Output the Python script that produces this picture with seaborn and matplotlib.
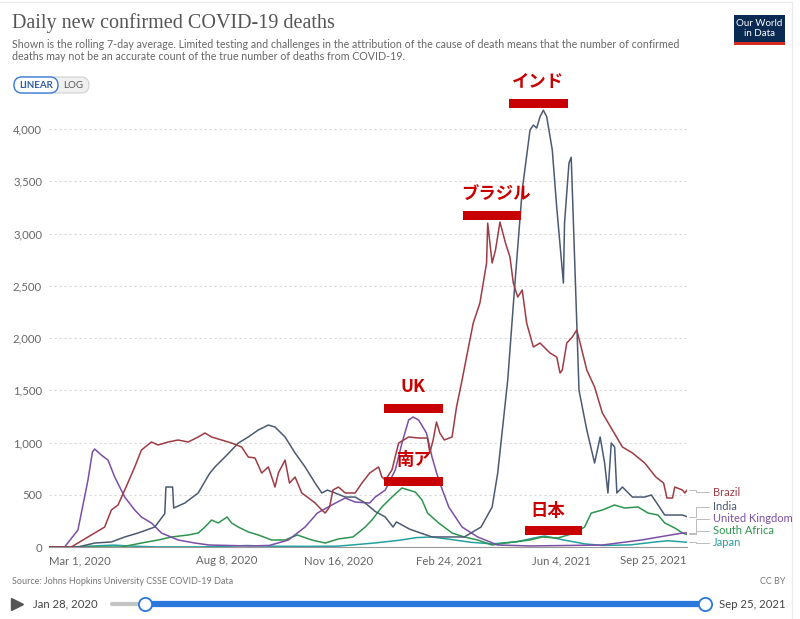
import pandas as pd
import seaborn as sns
import matplotlib.pyplot as plt
import matplotlib.dates as mdates
from matplotlib.transforms import Affine2D
from matplotlib.lines import Line2D
from matplotlib.patches import Rectangle, FancyBboxPatch

# rolling 7-day average of confirmed deaths
brazil_dates = ["2020-03-01", "2020-03-21", "2020-04-05", "2020-04-20", "2020-04-26", "2020-05-02", "2020-05-08", "2020-05-17", "2020-05-23", "2020-06-01",
                "2020-06-07", "2020-06-16", "2020-06-25", "2020-07-04", "2020-07-13", "2020-07-19", "2020-07-25", "2020-08-03", "2020-08-12", "2020-08-21",
                "2020-08-27", "2020-09-02", "2020-09-08", "2020-09-14", "2020-09-20", "2020-09-23", "2020-09-29", "2020-10-03", "2020-10-08", "2020-10-14",
                "2020-10-19", "2020-10-26", "2020-11-01", "2020-11-04", "2020-11-08", "2020-11-11", "2020-11-16", "2020-11-22", "2020-12-01", "2020-12-07",
                "2020-12-14", "2020-12-22", "2020-12-25", "2020-12-28", "2021-01-03", "2021-01-09", "2021-01-18", "2021-01-27", "2021-02-04", "2021-02-06",
                "2021-02-09", "2021-02-12", "2021-02-15", "2021-02-19", "2021-02-26", "2021-03-02", "2021-03-07", "2021-03-11", "2021-03-17", "2021-03-23",
                "2021-03-26", "2021-03-29", "2021-03-30", "2021-04-03", "2021-04-06", "2021-04-10", "2021-04-15", "2021-04-19", "2021-04-22", "2021-04-26",
                "2021-04-30", "2021-05-04", "2021-05-10", "2021-05-16", "2021-05-25", "2021-05-31", "2021-06-03", "2021-06-05", "2021-06-09", "2021-06-14",
                "2021-06-18", "2021-06-21", "2021-06-27", "2021-07-04", "2021-07-11", "2021-07-20", "2021-07-29", "2021-08-07", "2021-08-18", "2021-08-28",
                "2021-09-04", "2021-09-07", "2021-09-12", "2021-09-14", "2021-09-21", "2021-09-23", "2021-09-25"]
brazil_deaths = [0, 0, 96, 191, 354, 402, 545, 766, 928, 1005,
                 976, 1005, 1024, 1005, 1053, 1091, 1053, 1024, 995, 957,
                 861, 852, 708, 766, 574, 708, 832, 612, 670, 517,
                 478, 421, 354, 325, 383, 545, 574, 517, 517, 612,
                 708, 766, 670, 641, 737, 995, 1053, 1043, 1043, 900,
                 1024, 1196, 1091, 1024, 1053, 1340, 1598, 1818, 2143, 2335,
                 2526, 2718, 3100, 2718, 2842, 3110, 2909, 2775, 2526, 2392,
                 2459, 2143, 1914, 1952, 1856, 1818, 1665, 1694, 1952, 2010,
                 2077, 1952, 1694, 1531, 1282, 1120, 957, 900, 804, 670,
                 612, 469, 469, 574, 545, 517, 545]

india_dates = ["2020-03-01", "2020-03-27", "2020-04-11", "2020-04-26", "2020-05-08", "2020-05-20", "2020-06-04", "2020-06-13", "2020-06-14", "2020-06-20",
               "2020-06-21", "2020-07-01", "2020-07-13", "2020-07-23", "2020-07-28", "2020-08-06", "2020-08-18", "2020-08-27", "2020-09-05", "2020-09-14",
               "2020-09-20", "2020-09-29", "2020-10-08", "2020-10-17", "2020-10-26", "2020-11-01", "2020-11-06", "2020-11-13", "2020-11-22", "2020-12-01",
               "2020-12-10", "2020-12-19", "2020-12-28", "2021-01-04", "2021-01-07", "2021-01-19", "2021-02-08", "2021-03-09", "2021-03-24", "2021-04-03",
               "2021-04-08", "2021-04-17", "2021-04-23", "2021-04-30", "2021-05-07", "2021-05-10", "2021-05-13", "2021-05-16", "2021-05-19", "2021-05-22",
               "2021-05-27", "2021-05-31", "2021-06-06", "2021-06-07", "2021-06-11", "2021-06-13", "2021-06-14", "2021-06-18", "2021-06-20", "2021-06-27",
               "2021-07-04", "2021-07-09", "2021-07-13", "2021-07-16", "2021-07-19", "2021-07-22", "2021-07-24", "2021-07-29", "2021-08-07", "2021-08-18",
               "2021-08-24", "2021-09-05", "2021-09-21", "2021-09-25"]
india_deaths = [0, 0, 38, 48, 96, 134, 191, 320, 574, 574,
                373, 421, 517, 700, 766, 861, 995, 1053, 1120, 1167,
                1148, 1053, 900, 766, 612, 517, 545, 517, 478, 478,
                421, 340, 287, 191, 240, 170, 96, 96, 191, 383,
                708, 1598, 2460, 3416, 3990, 4038, 4010, 4118, 4180, 4118,
                3800, 3250, 2526, 3100, 3675, 3730, 3416, 2143, 1500, 1120,
                804, 1053, 804, 517, 995, 957, 517, 574, 478, 478,
                498, 306, 306, 290]

uk_dates = ["2020-03-01", "2020-03-15", "2020-03-27", "2020-04-05", "2020-04-09", "2020-04-11", "2020-04-17", "2020-04-23", "2020-04-29", "2020-05-08",
            "2020-05-17", "2020-05-23", "2020-06-01", "2020-06-10", "2020-06-25", "2020-07-10", "2020-07-23", "2020-08-28", "2020-09-15", "2020-10-02",
            "2020-10-17", "2020-10-28", "2020-11-10", "2020-11-22", "2020-12-01", "2020-12-14", "2020-12-19", "2020-12-28", "2021-01-06", "2021-01-12",
            "2021-01-18", "2021-01-22", "2021-01-27", "2021-02-03", "2021-02-08", "2021-02-14", "2021-02-23", "2021-03-07", "2021-03-21", "2021-04-08",
            "2021-05-07", "2021-07-11", "2021-08-15", "2021-09-21", "2021-09-25"]
uk_deaths = [0, 0, 163, 641, 909, 938, 880, 832, 670, 478,
             354, 287, 230, 134, 67, 38, 19, 10, 15, 67,
             191, 325, 402, 469, 430, 421, 478, 545, 737, 995,
             1215, 1244, 1215, 1091, 861, 641, 383, 191, 96, 19,
             10, 19, 67, 134, 135]

sa_dates = ["2020-03-01", "2020-05-05", "2020-05-23", "2020-06-07", "2020-06-19", "2020-07-04", "2020-07-13", "2020-07-19", "2020-07-25", "2020-07-31",
            "2020-08-08", "2020-08-12", "2020-08-18", "2020-08-27", "2020-09-05", "2020-09-17", "2020-09-29", "2020-10-10", "2020-10-23", "2020-11-04",
            "2020-11-16", "2020-11-29", "2020-12-10", "2020-12-16", "2020-12-25", "2021-01-03", "2021-01-12", "2021-01-18", "2021-01-24", "2021-01-30",
            "2021-02-04", "2021-02-14", "2021-02-26", "2021-03-09", "2021-03-21", "2021-04-03", "2021-04-15", "2021-05-07", "2021-05-18", "2021-06-01",
            "2021-06-16", "2021-06-25", "2021-07-01", "2021-07-11", "2021-07-22", "2021-07-31", "2021-08-12", "2021-08-21", "2021-08-30", "2021-09-05",
            "2021-09-14", "2021-09-21", "2021-09-25"]
sa_deaths = [0, 0, 38, 67, 96, 115, 134, 191, 258, 230,
             287, 230, 191, 144, 115, 67, 67, 115, 67, 38,
             77, 96, 191, 258, 383, 478, 565, 545, 526, 450,
             325, 230, 134, 96, 67, 19, 38, 67, 96, 86,
             134, 191, 325, 354, 402, 373, 383, 325, 306, 230,
             182, 134, 120]

japan_dates = ["2020-03-01", "2020-03-25", "2020-04-15", "2020-04-28", "2020-05-15", "2020-06-05", "2020-07-15", "2020-08-10", "2020-08-25", "2020-09-20",
               "2020-10-20", "2020-11-15", "2020-12-01", "2020-12-20", "2021-01-10", "2021-01-25", "2021-02-08", "2021-02-25", "2021-03-15", "2021-04-03",
               "2021-04-25", "2021-05-10", "2021-05-20", "2021-06-05", "2021-06-25", "2021-07-11", "2021-08-05", "2021-08-25", "2021-09-08", "2021-09-25"]
japan_deaths = [0, 2, 12, 18, 8, 1, 1, 8, 14, 7,
                6, 8, 22, 40, 65, 90, 96, 72, 45, 30,
                50, 85, 105, 70, 30, 15, 20, 45, 60, 45]

countries = ["Brazil", "India", "United Kingdom", "South Africa", "Japan"]
colors = {"Brazil": "#9e3b45", "India": "#4b5a73", "United Kingdom": "#7b4fa6",
          "South Africa": "#2e9450", "Japan": "#25a0a0"}
label_y = {"Brazil": 492, "India": 507, "United Kingdom": 519, "South Africa": 531, "Japan": 543}

yticks = [0, 500, 1000, 1500, 2000, 2500, 3000, 3500, 4000]
xtick_dates = ["2020-03-01", "2020-08-08", "2020-11-16", "2021-02-24", "2021-06-04", "2021-09-25"]
xtick_labels = ["Mar 1, 2020", "Aug 8, 2020", "Nov 16, 2020", "Feb 24, 2021", "Jun 4, 2021", "Sep 25, 2021"]

series = {"Brazil": (brazil_dates, brazil_deaths), "India": (india_dates, india_deaths),
          "United Kingdom": (uk_dates, uk_deaths), "South Africa": (sa_dates, sa_deaths),
          "Japan": (japan_dates, japan_deaths)}
frames = []
for name, (d, v) in series.items():
    frames.append(pd.DataFrame({"date": pd.to_datetime(d), "deaths": v, "country": name}))
df = pd.concat(frames, ignore_index=True)

sns.set_style("white")
plt.rcParams["font.family"] = ["Lato", "DejaVu Sans"]

W, H = 800, 619
fig = plt.figure(figsize=(W / 100, H / 100), dpi=100)
# pixel coords measured from the top-left corner
pix = Affine2D().scale(1 / 100, -1 / 100).translate(0, H / 100) + fig.dpi_scale_trans

ax = fig.add_axes([49 / W, 1 - 547 / H, (687 - 49) / W, (547 - 100) / H])
sns.lineplot(data=df, x="date", y="deaths", hue="country", hue_order=countries[::-1],
             palette=colors, lw=1.1, legend=False, estimator=None, ax=ax)

ax.set_xlim(pd.Timestamp("2020-03-01"), pd.Timestamp("2021-09-25"))
ax.set_ylim(0, 4278)
ax.set_xlabel("")
ax.set_ylabel("")
ax.set_yticks(yticks)
ax.set_yticklabels([f"{t:,}" for t in yticks])
ax.set_xticks(pd.to_datetime(xtick_dates))
ax.set_xticklabels(xtick_labels)
xl = ax.get_xticklabels()
xl[0].set_ha("left")
xl[-1].set_ha("right")
ax.yaxis.grid(True, ls=(0, (2, 2.5)), color="#d8d8d8", lw=0.8)
ax.set_axisbelow(True)
ax.tick_params(axis="y", length=0, labelsize=8.2, labelcolor="#666", pad=5)
ax.tick_params(axis="x", length=4, width=0.8, color="#999", labelsize=8.2, labelcolor="#666", pad=2)
for s in ["top", "right", "left"]:
    ax.spines[s].set_visible(False)
ax.spines["bottom"].set_color("#999")
ax.spines["bottom"].set_linewidth(0.8)

# end-of-line labels with connectors
for name in countries:
    d, v = series[name]
    ex, ey = ax.transData.transform((mdates.date2num(pd.Timestamp(d[-1])), v[-1]))
    ey = H - ey
    ly = label_y[name]
    fig.add_artist(Line2D([689, 696, 696, 709], [ey, ey, ly, ly], transform=pix,
                          color="#bbbbbb", lw=0.7))
    fig.text(713, ly, name, transform=pix, color=colors[name], fontsize=8,
             va="center", ha="left")

# header
fig.add_artist(Line2D([0, 792, 792], [2, 2, H], transform=pix, color="#ececec", lw=1))
fig.text(12, 23, "Daily new confirmed COVID-19 deaths", transform=pix,
         family=["Liberation Serif", "DejaVu Serif"], fontsize=14.5, color="#555555", va="center")
fig.text(12, 44, "Shown is the rolling 7-day average. Limited testing and challenges in the attribution "
         "of the cause of death means that the number of confirmed", transform=pix,
         fontsize=7.65, color="#666666", va="center")
fig.text(12, 57, "deaths may not be an accurate count of the true number of deaths from COVID-19.",
         transform=pix, fontsize=7.65, color="#666666", va="center")

fig.add_artist(FancyBboxPatch((14, 77), 75, 16, boxstyle="round,pad=0,rounding_size=8",
                              transform=pix, fc="#f0f0f0", ec="#d0d0d0", lw=0.8))
fig.add_artist(FancyBboxPatch((14, 77), 44, 16, boxstyle="round,pad=0,rounding_size=8",
                              transform=pix, fc="white", ec="#3c7bd6", lw=1))
fig.text(36, 85.5, "LINEAR", transform=pix, fontsize=7, color="#2f5fa8",
         ha="center", va="center", weight="bold")
fig.text(73.5, 85.5, "LOG", transform=pix, fontsize=7, color="#555555",
         ha="center", va="center")

fig.add_artist(Rectangle((734, 15), 51, 29, transform=pix, fc="#0b2a52", ec="none"))
fig.add_artist(Rectangle((734, 42), 51, 2.5, transform=pix, fc="#d42b21", ec="none"))
fig.text(759.5, 23, "Our World", transform=pix, fontsize=7, color="white", ha="center", va="center")
fig.text(759.5, 34, "in Data", transform=pix, fontsize=7, color="white", ha="center", va="center")

# red annotations
red = "#c80000"
notes = [("インド", 538, 82, 509, 568, 99),
         ("ブラジル", 496, 194, 463, 521, 211),
         ("UK", 413, 387, 384, 443, 404),
         ("南ア", 413, 460, 384, 443, 477),
         ("日本", 548, 511, 525, 582, 526)]
for txt, tx, ty, x0, x1, by in notes:
    fig.text(tx, ty, txt, transform=pix, family=["Noto Sans CJK JP", "DejaVu Sans"],
             fontsize=12.5, weight="bold", color=red, ha="center", va="center")
    fig.add_artist(Rectangle((x0, by), x1 - x0, 9, transform=pix, fc=red, ec="none"))

# footer
fig.text(12, 582, "Source: Johns Hopkins University CSSE COVID-19 Data", transform=pix,
         fontsize=6.5, color="#777777", va="center")
fig.text(786, 582, "CC BY", transform=pix, fontsize=6.5, color="#777777", va="center", ha="right")

fig.add_artist(Line2D([17], [604], transform=pix, marker=">", ms=9, color="#555555", lw=0))
fig.text(33, 604, "Jan 28, 2020", transform=pix, fontsize=8.2, color="#444444", va="center")
fig.text(719, 604, "Sep 25, 2021", transform=pix, fontsize=8.2, color="#444444", va="center")
fig.add_artist(Line2D([112, 145], [604, 604], transform=pix, color="#c4c4c4", lw=3,
                      solid_capstyle="round"))
fig.add_artist(Line2D([145, 705], [604, 604], transform=pix, color="#2a78dc", lw=4.5))
for hx in [145, 705]:
    fig.add_artist(Line2D([hx], [604], transform=pix, marker="o", ms=9.5, mfc="white",
                          mec="#2a78dc", mew=1.3, lw=0))

fig.savefig("out.png", dpi=100)
